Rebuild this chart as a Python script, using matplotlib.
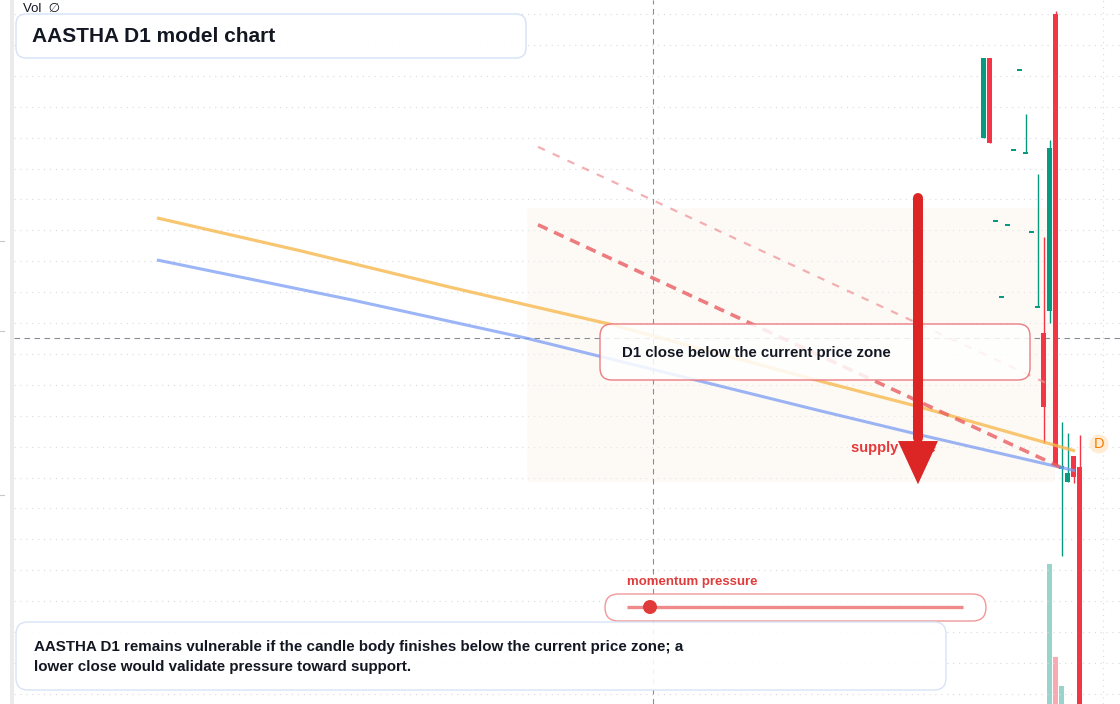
import matplotlib
matplotlib.use("Agg")
import matplotlib.pyplot as plt
from matplotlib.patches import FancyBboxPatch, Polygon, Circle, Rectangle

plt.rcParams['font.family'] = ['Liberation Sans', 'DejaVu Sans']

# ---------------- data ----------------
bars = list(range(164, 181))
opens = [108.99, 110.29, 107.65, 106.42, 107.59, 108.80, 110.09, 108.75, 107.47,
         106.26, 105.84, 106.19, 111.00, 103.64, 103.43, 103.85, 103.67]
highs = [110.29, 110.29, 107.65, 106.42, 107.59, 108.80, 110.09, 109.38, 107.47,
         108.41, 107.39, 108.96, 111.05, 104.40, 104.22, 103.85, 104.19]
lows = [108.99, 108.91, 107.65, 106.42, 107.59, 108.80, 110.09, 108.75, 107.47,
        106.26, 104.06, 106.00, 103.69, 102.23, 103.43, 103.41, 99.60]
closes = [110.29, 108.91, 107.65, 106.42, 107.59, 108.80, 110.09, 108.75, 107.47,
          106.26, 104.64, 108.83, 103.69, 103.69, 103.57, 103.51, 99.60]
volumes = [0, 0, 0, 0, 0, 0, 0, 0, 0, 0, 0, 1.40, 0.47, 0.18, 0, 0, 0]  # millions

orange_x = [26.25, 50.08, 75.08, 101.75, 136.75, 153.42, 179.25]
orange_y = [107.70, 107.17, 106.58, 105.98, 105.06, 104.64, 103.93]
blue_x = [26.25, 58.42, 87.58, 136.75, 153.42, 179.25]
blue_y = [107.02, 106.38, 105.76, 104.58, 104.19, 103.61]
red_dash_x = [89.75, 176.75]
red_dash_y = [107.59, 103.67]
pink_dash_x = [89.75, 175.08]
pink_dash_y = [108.85, 105.00]

zone_x = [87.92, 175.92]
zone_y = [103.43, 107.86]
arrow_x = 153.08
arrow_top = 108.02
arrow_base = 104.09
arrow_tip = 103.39
cross_x = 108.92
cross_y = 105.76
grid_levels = [100.0 + 0.5 * k for k in range(23)]
vgrid_x = 183.92

GREEN = '#089981'
RED = '#f23645'

# ---------------- figure ----------------
fig = plt.figure(figsize=(11.2, 7.04), dpi=100)
xlim = (1 / 12, 1 / 12 + 1120 / 6)
ylim = (111 + (14 - 704) / 61.8, 111 + 14 / 61.8)

vax = fig.add_axes([0, 0, 1, 1])
vax.set_xlim(*xlim)
vax.set_ylim(0, 7.04)
vax.axis('off')
for b, o, c, v in zip(bars, opens, closes, volumes):
    if v > 0:
        vax.bar(b, v, width=0.83, color=GREEN if c >= o else RED, alpha=0.42, linewidth=0)

ax = fig.add_axes([0, 0, 1, 1])
ax.patch.set_alpha(0)
ax.set_xlim(*xlim)
ax.set_ylim(*ylim)
ax.axis('off')

# grid
for lv in grid_levels:
    ax.axhline(lv, xmin=14 / 1120, xmax=1, color='#dadce1', lw=0.85,
               linestyle=(0, (1, 4)), zorder=0)
ax.axvline(vgrid_x, color='#dadce1', lw=0.85, linestyle=(0, (1, 4)), zorder=0)

# supply zone
zone = FancyBboxPatch((zone_x[0], zone_y[0]), zone_x[1] - zone_x[0], zone_y[1] - zone_y[0],
                      boxstyle='round,pad=0,rounding_size=0.25', facecolor='#fbf1e8',
                      edgecolor='none', alpha=0.35, zorder=0.5,
                      mutation_aspect=0.1)
ax.add_patch(zone)

# crosshair
ax.axvline(cross_x, color='#8a8d96', lw=0.8, linestyle=(0, (5, 4)), zorder=1)
ax.axhline(cross_y, xmin=14 / 1120, xmax=1, color='#8a8d96', lw=0.8,
           linestyle=(0, (5, 4)), zorder=1)

# candles
minh = 0.025
for b, o, h, l, c in zip(bars, opens, highs, lows, closes):
    col = GREEN if c >= o else RED
    ax.vlines(b, l, h, color=col, lw=1.0, zorder=3)
    lo = min(o, c)
    ht = abs(c - o)
    if ht < minh:
        lo -= minh / 2
        ht = minh
    ax.bar(b, ht, bottom=lo, width=0.83, color=col, linewidth=0, zorder=3)

# model lines
ax.plot(pink_dash_x, pink_dash_y, color='#ef8f93', alpha=0.7, lw=1.6,
        dashes=(3.4, 3.9), zorder=4)
ax.plot(orange_x, orange_y, color='#f7b84e', alpha=0.8, lw=2.3, zorder=4,
        solid_capstyle='butt')
ax.plot(blue_x, blue_y, color='#7b9cf3', alpha=0.75, lw=2.2, zorder=4,
        solid_capstyle='butt')
ax.plot(red_dash_x, red_dash_y, color='#e85d60', alpha=0.8, lw=2.6,
        dashes=(2.9, 2.0), zorder=4)

# supply zone label
ax.text(zone_x[0] + (851 - 527) / 6, 111 + (14 - 448) / 61.8, 'supply zone',
        fontsize=10.5, fontweight='bold', color='#e5393b', va='center', ha='left', zorder=5)

# ---------------- overlay (pixel layout) ----------------
ov = fig.add_axes([0, 0, 1, 1])
ov.patch.set_alpha(0)
ov.set_xlim(0, 1120)
ov.set_ylim(704, 0)
ov.axis('off')

ov.add_patch(Rectangle((10, 0), 4, 704, facecolor='#ebebeb', edgecolor='none', zorder=1))
for ty in [241, 331, 495]:
    ov.plot([0, 4], [ty, ty], color='#c8c8c8', lw=0.8)

ov.text(23, 9, 'Vol  \u2205', fontsize=9.5, color='#131722', va='center', ha='left')

# title box
ov.add_patch(FancyBboxPatch((16, 14), 510, 44, boxstyle='round,pad=0,rounding_size=10',
                            facecolor='white', edgecolor='#d3e0f5', lw=1.0, alpha=0.95, zorder=5))
ov.text(32, 36, 'AASTHA D1 model chart', fontsize=15, fontweight='bold',
        color='#131722', va='center', ha='left', zorder=6)

# callout box
ov.add_patch(FancyBboxPatch((600, 324), 430, 56, boxstyle='round,pad=0,rounding_size=12',
                            facecolor='white', edgecolor='none', alpha=0.85, zorder=5))
ov.add_patch(FancyBboxPatch((600, 324), 430, 56, boxstyle='round,pad=0,rounding_size=12',
                            facecolor='none', edgecolor='#ec7c82', lw=1.0, zorder=5))
ov.text(622, 353, 'D1 close below the current price zone', fontsize=10.8, fontweight='bold',
        color='#131722', va='center', ha='left', zorder=6)

# arrow (drawn above the callout box)
ax_tr = ax.transData
ov.plot([arrow_x, arrow_x], [arrow_top, arrow_base + 0.05], color='#dc2626',
        lw=7.2, solid_capstyle='round', zorder=8, transform=ax_tr)
ov.add_patch(Polygon([(arrow_x - 3.33, arrow_base), (arrow_x + 3.33, arrow_base),
                      (arrow_x, arrow_tip)], closed=True, facecolor='#dc2626',
                     edgecolor='none', zorder=8, transform=ax_tr))

# momentum pressure
ov.text(627, 582, 'momentum pressure', fontsize=9.5, fontweight='bold', color='#e03c3c',
        va='center', ha='left', zorder=6)
ov.add_patch(FancyBboxPatch((605, 594), 381, 27, boxstyle='round,pad=0,rounding_size=13.5',
                            facecolor='white', edgecolor='#f08c8e', lw=1.0, alpha=0.9, zorder=5))
ov.plot([627, 963], [607, 607], color='#f08a8a', lw=2.4, zorder=6, solid_capstyle='butt')
ov.add_patch(Circle((650, 607), 7, facecolor='#e03a3a', edgecolor='none', zorder=7))

# bottom box
ov.add_patch(FancyBboxPatch((16, 622), 930, 68, boxstyle='round,pad=0,rounding_size=12',
                            facecolor='white', edgecolor='#d3e0f5', lw=1.0, alpha=0.9, zorder=5))
ov.text(34, 647, 'AASTHA D1 remains vulnerable if the candle body finishes below the current price zone; a',
        fontsize=10.9, fontweight='bold', color='#131722', va='center', ha='left', zorder=6)
ov.text(34, 667, 'lower close would validate pressure toward support.',
        fontsize=10.9, fontweight='bold', color='#131722', va='center', ha='left', zorder=6)

# D badge
ov.add_patch(Circle((1099, 444), 9.5, facecolor='#ffecd2', edgecolor='none', zorder=6))
ov.text(1099, 444.5, 'D', fontsize=10.5, color='#f57c00', va='center', ha='center', zorder=7)

fig.savefig('out.png', dpi=100)
